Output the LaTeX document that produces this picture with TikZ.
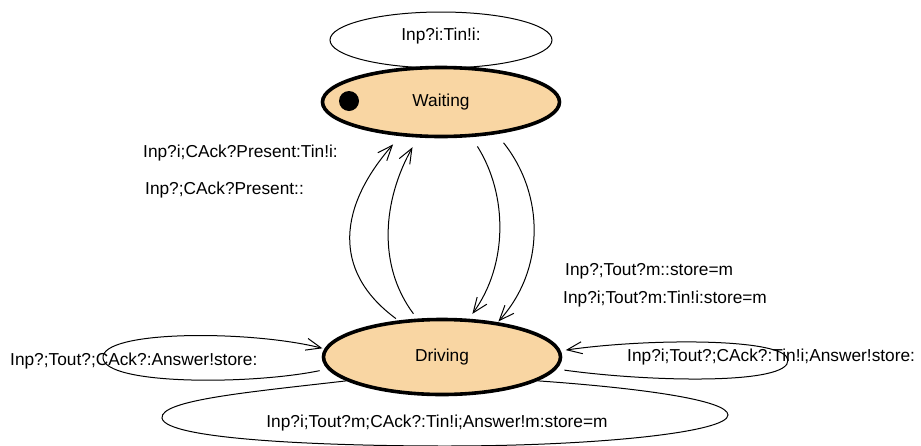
\documentclass[tikz,border=0pt]{standalone}
\usepackage{fontspec}
\setmainfont{Liberation Sans}
\usetikzlibrary{shapes.geometric,arrows.meta,calc,backgrounds}
\definecolor{stfill}{RGB}{249,214,163}
\begin{document}
\begin{tikzpicture}[x=1pt,y=-1pt,
  every node/.style={font=\fontsize{17.3}{20}\selectfont, inner sep=0pt},
  state/.style={ellipse, draw, line width=3.6pt, fill=stfill, minimum width=237pt},
  conn/.style={line width=1pt},
  arr/.style={conn, -{Straight Barb[length=15pt,width=12pt,line width=1pt]}},
  lbl/.style={anchor=west}]
\useasboundingbox (0,0) rectangle (921,445);

% states
\node[state, minimum height=69pt] (W) at (441,102) {Waiting};
\node[state, minimum height=75pt] (D) at (442,357) {Driving};
\node[circle, fill=black, minimum size=20pt] (dot) at (349,101) {};

% top self loop (behind Waiting)
\begin{scope}[on background layer]
  \draw[conn] ($(W.center)+(0,-62)$) ellipse [x radius=111, y radius=28];
\end{scope}
\node (lt) at (441,36) {Inp?i:Tin!i:};

% Driving -> Waiting
\draw[arr, shorten <=3pt, shorten >=11pt] (D.140) .. controls (330,270) and (340,205) .. (W.220);
\draw[arr, shorten <=6pt, shorten >=11pt] (D.123) .. controls (377,265) and (383,200) .. (W.237);
% Waiting -> Driving
\draw[arr, shorten <=11pt, shorten >=6pt] (W.311) .. controls (508,195) and (508,265) .. (D.55);
\draw[arr, shorten <=11pt, shorten >=1pt] (W.330) .. controls (545,195) and (545,270) .. (D.32);

% left self loop
\draw[arr, shorten <=8pt, shorten >=2pt] (D.186) .. controls (250,385) and (105,385) .. (103,358)
   .. controls (101,330) and (250,330) .. (D.176);
% right self loop
\draw[arr, shorten <=8pt, shorten >=5pt] (D.354) .. controls (650,382) and (790,385) .. (788,360)
   .. controls (786,338) and (650,338) .. (D.3);
% bottom self loop
\draw[conn] (D.194) .. controls (250,392) and (160,400) .. (162,418)
   .. controls (165,440) and (330,446) .. (445,446)
   .. controls (600,446) and (728,432) .. (728,415)
   .. controls (728,400) and (640,388) .. (D.346);

% labels
\node[lbl] (l1) at (143,153) {Inp?i;CAck?Present:Tin!i:};
\node[lbl] (l2) at (145,190) {Inp?;CAck?Present::};
\node[lbl] (l3) at (565,271) {Inp?;Tout?m::store=m};
\node[lbl] (l4) at (563,299) {Inp?i;Tout?m:Tin!i:store=m};
\node[lbl] (l5) at (10,361) {Inp?;Tout?;CAck?:Answer!store:};
\node[lbl] (l6) at (627,357) {Inp?i;Tout?;CAck?:Tin!i;Answer!store:};
\node (l7) at (437,423) {Inp?i;Tout?m;CAck?:Tin!i;Answer!m:store=m};
\end{tikzpicture}
\end{document}
